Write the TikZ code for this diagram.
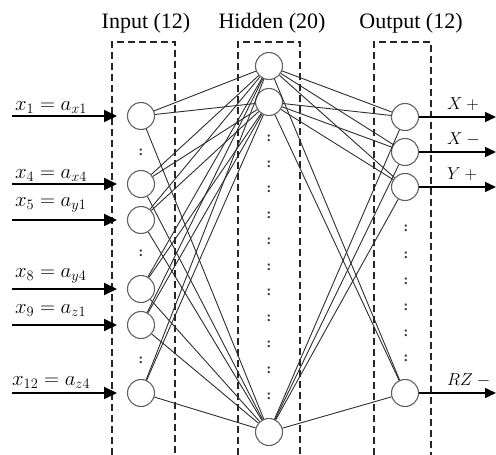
\documentclass[tikz,border=0pt]{standalone}
\usepackage{fontspec}
\setmainfont{Liberation Serif}
\usetikzlibrary{arrows.meta}
\begin{document}
\begin{tikzpicture}[x=1pt,y=-1pt,
  neuron/.style={circle,draw=black!62,line width=1.1pt,minimum size=27pt,inner sep=0pt,fill=white},
  link/.style={draw=black!82,line width=0.9pt},
  frame/.style={draw=black!85,line width=1.1pt,dash pattern=on 7pt off 4pt},
  inarrow/.style={draw=black,line width=2pt,-{Triangle[length=13pt,width=12pt]}},
  outarrow/.style={draw=black,line width=1.6pt,-{Triangle[length=11pt,width=10pt]}},
  title/.style={font=\fontsize{22}{26}\selectfont,anchor=base,inner sep=0pt},
  inlab/.style={font=\fontsize{22.5}{26}\selectfont,anchor=base west,inner sep=0pt},
  outlab/.style={font=\fontsize{18}{22}\selectfont,anchor=base west,inner sep=0pt},
  colon/.style={font=\fontsize{14}{16}\selectfont\bfseries,inner sep=0pt,text=black!80}]
\useasboundingbox (0,0) rectangle (496,455);

% titles
\node[title] (tin) at (146,28) {Input (12)};
\node[title] (thid) at (272,28) {Hidden (20)};
\node[title] (tout) at (411,28) {Output (12)};

% dashed frames
\draw[frame] (112,455) -- (112,42) -- (175,42) -- (175,455);
\draw[frame] (238,455) -- (238,42) -- (300,42) -- (300,455);
\draw[frame] (374,455) -- (374,42) -- (431,42) -- (431,455);

% neurons
\foreach \n/\y in {1/116,4/184,5/220,8/289,9/325,12/393}
  \node[neuron] (i\n) at (141,\y) {};
\foreach \n/\y in {1/66,2/102,20/432}
  \node[neuron] (h\n) at (269,\y) {};
\foreach \n/\y in {1/117,2/152,3/187,12/393}
  \node[neuron] (o\n) at (405,\y) {};

% links
\foreach \a in {1,4,5,8,9,12}
  \foreach \b in {1,2,20}
    \draw[link] (i\a) -- (h\b);
\foreach \a in {1,2,20}
  \foreach \b in {1,2,3,12}
    \draw[link] (h\a) -- (o\b);

% colons
\foreach \y [count=\k] in {152,253,360}
  \node[colon] (ci\k) at (141,\y) {:};
\foreach \y [count=\k] in {138,164,189,215,241,267,292,318,344,370,396}
  \node[colon] (ch\k) at (269,\y) {:};
\foreach \y [count=\k] in {228,255,281,307,333,358}
  \node[colon] (co\k) at (406,\y) {:};

% input arrows
\foreach \n/\y in {1/116,4/184,5/220,8/289,9/325,12/393}{
  \coordinate (s\n) at (12,\y);
  \coordinate (e\n) at (117,\y);
  \draw[inarrow] (s\n) -- (e\n);
}
\node[inlab] (l1) at (15,110) {$x_1 = a_{x1}$};
\node[inlab] (l4) at (15,178) {$x_4 = a_{x4}$};
\node[inlab] (l5) at (15,206) {$x_5 = a_{y1}$};
\node[inlab] (l8) at (15,277) {$x_8 = a_{y4}$};
\node[inlab] (l9) at (15,313) {$x_9 = a_{z1}$};
\node[inlab] (l12) at (12,385) {$x_{12} = a_{z4}$};

% output arrows
\foreach \n/\y in {1/117,2/152,3/187,12/393}{
  \coordinate (t\n) at (496,\y);
  \draw[outarrow] (o\n) -- (t\n);
}
\node[outlab] (r1) at (447,109) {$X +{}$};
\node[outlab] (r2) at (447,144) {$X -{}$};
\node[outlab] (r3) at (447,179) {$Y +{}$};
\node[outlab] (r12) at (447,385) {$RZ -{}$};
\end{tikzpicture}
\end{document}
